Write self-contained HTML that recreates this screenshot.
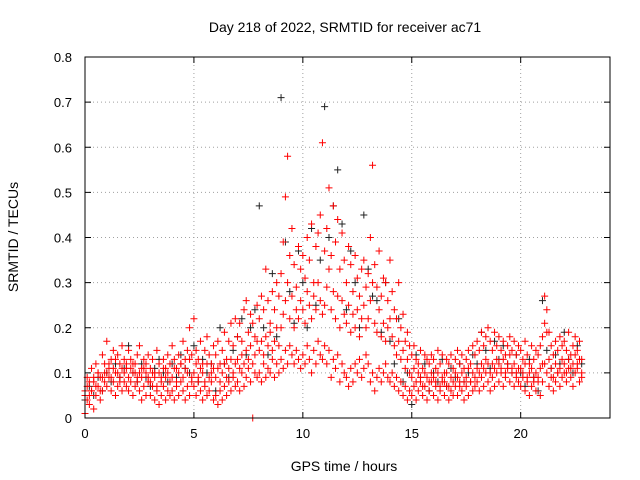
<!DOCTYPE html>
<html><head><meta charset="utf-8"><style>
body{margin:0;background:#fff}
svg{display:block;font-family:"Liberation Sans",sans-serif}
</style></head><body>
<svg id="chart" width="640" height="480">
<text x="345" y="32" font-size="14" text-anchor="middle">Day 218 of 2022, SRMTID for receiver ac71</text>
<text x="18" y="237" font-size="14" text-anchor="middle" transform="rotate(-90 18 237)">SRMTID / TECUs</text>
<text x="344" y="471" font-size="14" text-anchor="middle">GPS time / hours</text>
<g id="grid"></g>
<g id="axes"></g>
<g id="marks"></g>
<rect x="85" y="57" width="525" height="361" fill="none" stroke="#000" stroke-width="1"/>
</svg>
<script>
const xTicks=[0,5,10,15,20];
const yTicks=[0,0.1,0.2,0.3,0.4,0.5,0.6,0.7,0.8];
const yTickLabels=["0","0.1","0.2","0.3","0.4","0.5","0.6","0.7","0.8"];
const stepRed=0.1, stepBlack=0.2;
const blackVals=[.04,.07,.05,.09,.06,.10,.08,.12,.09,.11,
.16,.10,.08,.12,.09,.07,.11,.13,.10,.08,
.12,.09,.14,.11,.10,.16,.08,.13,.10,.12,
.06,.20,.12,.09,.15,.18,.22,.14,.20,.24,
.47,.20,.14,.32,.18,.71,.39,.28,.21,.37,
.30,.20,.42,.25,.35,.69,.40,.47,.55,.43,
.24,.37,.30,.20,.45,.33,.27,.26,.19,.30,
.17,.12,.22,.08,.10,.03,.14,.09,.12,.06,
.10,.08,.13,.07,.11,.09,.12,.08,.10,.14,
.12,.19,.15,.11,.17,.13,.16,.12,.10,.14,
.10,.07,.13,.09,.06,.26,.15,.11,.14,.12,
.19,.13,.10,.16,.12];
const redA=[.06,.09,.05,.11,.08,.12,.10,.09,.14,.12,
.17,.11,.13,.15,.10,.14,.12,.16,.13,.11,
.15,.13,.12,.10,.14,.16,.11,.13,.12,.14,
.11,.13,.10,.15,.12,.09,.13,.11,.14,.12,
.16,.13,.11,.14,.12,.17,.13,.15,.20,.14,
.22,.15,.13,.17,.12,.15,.18,.14,.12,.16,
.14,.17,.12,.15,.19,.13,.17,.21,.16,.22,
.18,.21,.17,.24,.26,.19,.23,.21,.18,.25,
.22,.27,.24,.33,.26,.21,.28,.24,.30,.27,
.32,.39,.49,.58,.36,.42,.34,.29,.38,.33,
.36,.31,.40,.35,.43,.30,.38,.41,.45,.61,
.37,.42,.51,.36,.47,.39,.44,.33,.41,.35,
.30,.38,.34,.28,.36,.31,.27,.33,.35,.29,
.32,.40,.56,.34,.29,.37,.27,.31,.30,.26,
.35,.28,.24,.22,.30,.20,.23,.17,.19,.16,
.14,.16,.13,.12,.15,.11,.14,.13,.12,.14,
.13,.11,.15,.12,.14,.10,.13,.12,.14,.11,
.13,.15,.12,.14,.11,.13,.15,.12,.16,.14,
.17,.15,.19,.16,.18,.20,.17,.15,.19,.16,
.18,.15,.17,.14,.16,.18,.15,.17,.14,.16,
.15,.13,.17,.14,.12,.16,.13,.15,.14,.16,
.18,.27,.24,.19,.16,.14,.17,.15,.18,.16,
.17,.15,.19,.14,.16,.18,.15,.17,.13];
const redB=[.01,.04,.03,.06,.02,.05,.07,.04,.06,.08,
.07,.09,.06,.08,.05,.07,.09,.06,.08,.07,
.06,.08,.05,.07,.09,.06,.04,.07,.05,.08,
.05,.07,.04,.06,.03,.05,.07,.04,.06,.05,
.06,.04,.07,.05,.08,.06,.04,.07,.05,.08,
.07,.05,.08,.06,.04,.07,.05,.06,.08,.04,
.05,.03,.06,.04,.07,.05,.08,.06,.09,.07,
.08,.06,.10,.07,.09,.11,.08,.00,.10,.09,
.10,.08,.12,.09,.11,.10,.13,.09,.12,.10,
.13,.11,.15,.12,.16,.14,.12,.15,.13,.11,
.14,.12,.16,.13,.10,.15,.12,.17,.14,.13,
.16,.12,.15,.09,.13,.11,.14,.08,.12,.10,
.09,.07,.11,.08,.12,.10,.13,.09,.11,.14,
.12,.08,.10,.06,.09,.11,.08,.10,.12,.09,
.08,.10,.07,.09,.06,.08,.05,.07,.04,.06,
.05,.07,.04,.06,.08,.05,.07,.04,.06,.08,
.05,.07,.04,.06,.08,.05,.07,.04,.06,.05,
.07,.05,.08,.06,.04,.07,.05,.08,.06,.07,
.08,.06,.09,.07,.10,.08,.06,.09,.07,.10,
.08,.10,.07,.09,.11,.08,.10,.07,.09,.08,
.07,.09,.06,.08,.05,.07,.09,.06,.08,.05,
.08,.12,.10,.07,.09,.06,.08,.10,.07,.09,
.10,.08,.11,.09,.07,.10,.12,.08,.09];
const redC=[.05,.07,.08,.06,.09,.07,.10,.06,.09,.10,
.10,.12,.09,.11,.13,.10,.08,.11,.10,.12,
.09,.11,.10,.12,.08,.10,.09,.11,.10,.09,
.08,.10,.09,.07,.10,.08,.11,.09,.10,.08,
.09,.11,.08,.10,.12,.09,.11,.10,.13,.09,
.10,.12,.09,.11,.10,.08,.12,.09,.10,.11,
.09,.11,.08,.10,.12,.09,.11,.13,.10,.12,
.13,.11,.14,.12,.15,.13,.16,.12,.14,.17,
.15,.17,.14,.18,.16,.19,.15,.17,.20,.16,
.20,.23,.26,.30,.22,.27,.20,.24,.22,.26,
.24,.21,.28,.25,.22,.27,.24,.30,.26,.23,
.25,.29,.33,.24,.28,.22,.27,.20,.26,.23,
.21,.25,.19,.23,.20,.24,.18,.22,.25,.20,
.22,.26,.30,.21,.19,.24,.18,.21,.17,.20,
.22,.18,.16,.14,.17,.13,.15,.11,.13,.10,
.09,.11,.08,.10,.09,.07,.10,.09,.08,.10,
.09,.08,.10,.07,.09,.08,.10,.07,.09,.08,
.10,.09,.07,.10,.08,.09,.11,.08,.10,.09,
.11,.10,.12,.11,.13,.12,.10,.12,.11,.13,
.12,.11,.13,.10,.12,.14,.11,.12,.10,.11,
.11,.10,.12,.09,.10,.11,.08,.10,.09,.11,
.12,.21,.19,.13,.11,.09,.12,.10,.11,.13,
.12,.10,.13,.11,.12,.14,.11,.13,.10];

const NS="http://www.w3.org/2000/svg";
const X0=85,X1=610,Y0=418,Y1=57,XMAX=24.1,YMAX=0.8;
const sx=t=>X0+(t/XMAX)*(X1-X0);
const sy=v=>Y0-(v/YMAX)*(Y0-Y1);
function mk(tag,attrs,parent){const e=document.createElementNS(NS,tag);for(const k in attrs)e.setAttribute(k,attrs[k]);parent.appendChild(e);return e;}
const grid=document.getElementById('grid'),axes=document.getElementById('axes'),marks=document.getElementById('marks');
xTicks.forEach(t=>{const x=sx(t);
 if(t>0){const g=mk('line',{x1:x,x2:x,y1:Y1,y2:Y0,stroke:'#a0a0a0','stroke-dasharray':'1,3'},grid);
 
 }
 mk('line',{x1:x,x2:x,y1:Y0,y2:Y0-6,stroke:'#000'},axes);
 mk('line',{x1:x,x2:x,y1:Y1,y2:Y1+6,stroke:'#000'},axes);
 const l=mk('text',{x:x,y:Y0+20,'font-size':13,'text-anchor':'middle'},axes);l.textContent=t;
 
 
});
yTicks.forEach((v,i)=>{const y=sy(v);
 if(i>0&&i<yTicks.length-1){const g=mk('line',{x1:X0,x2:X1,y1:y,y2:y,stroke:'#a0a0a0','stroke-dasharray':'1,3'},grid);
 
 }
 mk('line',{x1:X0,x2:X0+6,y1:y,y2:y,stroke:'#000'},axes);
 mk('line',{x1:X1,x2:X1-6,y1:y,y2:y,stroke:'#000'},axes);
 const l=mk('text',{x:X0-13,y:y+5,'font-size':13,'text-anchor':'end'},axes);l.textContent=yTickLabels[i];
 
 
});
function series(vals,step,color,name){
 let d='';
 vals.forEach((v,i)=>{const x=sx(i*step),y=sy(v);d+=`M${x-3.5},${y}h7M${x},${y-3.5}v7`;});
 const p=mk('path',{d:d,stroke:color,'stroke-width':1,fill:'none'},marks);
 
 
}
series(blackVals,stepBlack,'#222','series-black');
series(redC,stepRed,'#ff0000','series-red-mid');
series(redB,stepRed,'#ff0000','series-red-low');
series(redA,stepRed,'#ff0000','series-red-high');
</script>
</body></html>
